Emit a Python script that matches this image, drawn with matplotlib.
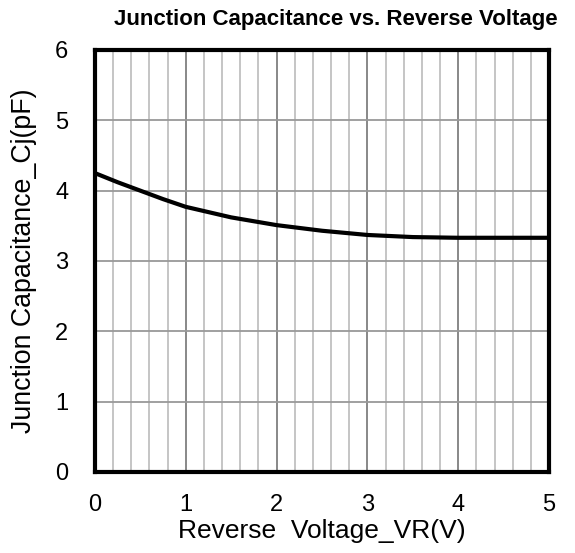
import matplotlib.pyplot as plt
import numpy as np

# 역전압에 따른 접합 커패시턴스
vr = [0, 0.25, 0.5, 0.75, 1, 1.5, 2, 2.5, 3, 3.5, 4, 4.5, 5]
cj = [4.25, 4.12, 4.0, 3.88, 3.77, 3.62, 3.51, 3.43, 3.37, 3.34, 3.33, 3.33, 3.33]

plt.rcParams['font.family'] = ['Liberation Sans', 'DejaVu Sans']

fig = plt.figure(figsize=(5.75, 5.53), dpi=100)
ax = fig.add_axes([0.165, 0.1465, 0.79, 0.7631])

# 격자
for x in np.arange(0.2, 5, 0.2):
    major = abs(x - round(x)) < 1e-6
    ax.axvline(x, color='#888888' if major else '#b5b5b5', lw=1.4 if major else 1.1, zorder=1)
for y in range(1, 6):
    ax.axhline(y, color='#999999', lw=1.3, zorder=1)

ax.plot(vr, cj, color='black', lw=3, zorder=3)

ax.set_xlim(0, 5)
ax.set_ylim(0, 6)
ax.set_xticks(range(0, 6))
ax.set_yticks(range(0, 7))
ax.tick_params(length=0, labelsize=17)
ax.tick_params(axis='x', pad=16)
ax.tick_params(axis='y', pad=19)
for s in ax.spines.values():
    s.set_linewidth(3)

fig.text(0.584, 0.964, 'Junction Capacitance vs. Reverse Voltage', fontsize=16,
         fontweight='bold', ha='center', va='center')
ax.set_xlabel('Reverse  Voltage_VR(V)', fontsize=19, labelpad=2)
ax.set_ylabel('Junction Capacitance_Cj(pF)', fontsize=19.3, labelpad=13)

plt.savefig('out.png')
